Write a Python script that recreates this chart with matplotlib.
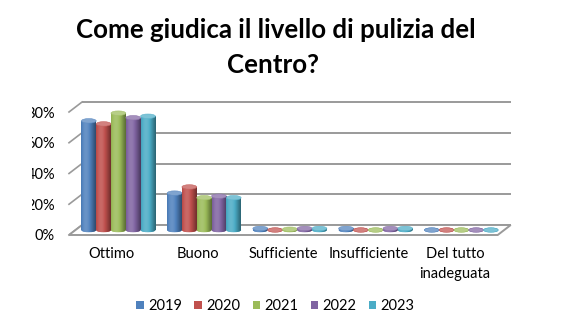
import numpy as np
import matplotlib
matplotlib.use('Agg')
import matplotlib.pyplot as plt
from matplotlib.patches import Ellipse, Polygon, Rectangle
from matplotlib.colors import to_rgb

# ---------------- data ----------------
categories = ['Ottimo', 'Buono', 'Sufficiente', 'Insufficiente', 'Del tutto\ninadeguata']
years = ['2019', '2020', '2021', '2022', '2023']
v2019 = [71, 24, 1, 1, 0]
v2020 = [69, 28, 0, 0, 0]
v2021 = [76, 21, 0.5, 0, 0]
v2022 = [73, 22, 1, 1, 0]
v2023 = [74, 21, 1, 1, 0]
yticks = [0, 20, 40, 60, 80]
ytick_labels = ['0%', '20%', '40%', '60%', '80%']
title_line1 = 'Come giudica il livello di pulizia del'
title_line2 = 'Centro?'

series = [v2019, v2020, v2021, v2022, v2023]
colors = ['#4F81BD', '#C0504D', '#9BBB59', '#8064A2', '#4BACC6']

plt.rcParams['font.family'] = ['Lato', 'DejaVu Sans']

W, H = 565, 330
fig = plt.figure(figsize=(W / 100, H / 100), dpi=100)
ax = fig.add_axes([69 / W, 95 / H, 428.7 / W, 123 / H])

DX, DY = 0.152, 6.5        # depth offset (data units)
x0, x1 = -0.5, 4.5
gc = '#9a9a9a'

# back wall grid lines + left wall diagonals
for v in yticks:
    ax.plot([x0 + DX, x1 + DX], [v + DY, v + DY], color=gc, lw=1.4,
            clip_on=False, zorder=1, solid_capstyle='butt')
    ax.plot([x0, x0 + DX], [v, v + DY], color=gc, lw=1.2, clip_on=False, zorder=1)

# floor
ax.add_patch(Polygon([(x0, 0), (x1, 0), (x1 + DX, DY), (x0 + DX, DY)],
                     closed=True, facecolor='white', edgecolor=gc, lw=1.4,
                     clip_on=False, zorder=1.5))


def shade_rgb(c, n=64):
    c = np.array(to_rgb(c))
    t = np.linspace(0, 1, n)
    s = 0.80 + 0.32 * np.cos(np.pi * (t - 0.33) * 1.1)
    out = np.empty((1, n, 3))
    for k, sv in enumerate(s):
        if sv >= 1:
            out[0, k] = c + (1 - c) * (sv - 1) * 1.2
        else:
            out[0, k] = c * sv
    return np.clip(out, 0, 1)


def lighten(c, f):
    c = np.array(to_rgb(c))
    return tuple(c + (1 - c) * f)


w = 0.1726
base = DY / 2
eh = 2.9
xpos = np.arange(len(categories))

for i, (vals, c) in enumerate(zip(series, colors)):
    xs = xpos + DX / 2 + (i - 2) * w
    grad = shade_rgb(c)
    bars = ax.bar(xs, vals, width=w, bottom=base, color=c, zorder=3,
                  linewidth=0, clip_on=False)
    for x, v, b in zip(xs, vals, bars):
        # bottom ellipse
        be = Ellipse((x, base), w, eh, facecolor=c, edgecolor='none',
                     zorder=3, transform=ax.transData)
        ax.add_patch(be)
        im = ax.imshow(grad, extent=(x - w / 2, x + w / 2, base - eh / 2, base + eh / 2),
                       aspect='auto', interpolation='bilinear', zorder=3)
        im.set_clip_path(be)
        if v > 0:
            im2 = ax.imshow(grad, extent=(x - w / 2, x + w / 2, base, base + v),
                            aspect='auto', interpolation='bilinear', zorder=3)
            im2.set_clip_path(b)
        # top ellipse
        ax.add_patch(Ellipse((x, base + v), w, eh, facecolor=lighten(c, 0.28),
                             edgecolor=lighten(c, 0.1), lw=0.4, zorder=3,
                             clip_on=False))

ax.set_xlim(x0, x1)
ax.set_ylim(0, 80)
for s in ax.spines.values():
    s.set_visible(False)
ax.set_yticks(yticks, ytick_labels)
ax.set_xticks(xpos, [])
ax.tick_params(axis='y', length=0, pad=10, labelsize=10.5)
ax.tick_params(axis='x', length=0)
ax.set_facecolor('none')

# category labels
for x, cat in zip(xpos, categories):
    ax.annotate(cat, (x, 0), xytext=(0, -8.5), textcoords='offset points',
                ha='center', va='top', fontsize=10.5, linespacing=1.55,
                annotation_clip=False)

# title
fig.text(276 / W, 1 - 30 / H, title_line1, ha='center', va='center',
         fontsize=18.6, fontweight='bold')
fig.text(273 / W, 1 - 65 / H, title_line2, ha='center', va='center',
         fontsize=18.6, fontweight='bold')

# legend
handles = [Rectangle((0, 0), 1, 1, facecolor=c, edgecolor='none') for c in colors]
fig.legend(handles, years, loc='center', bbox_to_anchor=(275.5 / W, 1 - 306 / H),
           ncol=5, frameon=False, handlelength=0.5, handleheight=0.5,
           handletextpad=0.3, columnspacing=0.86, fontsize=10.5)

# the chart area is cropped on the left in the reference
fig.add_artist(Rectangle((0, 0), 32 / W, 1, transform=fig.transFigure,
                         facecolor='white', edgecolor='none', zorder=10))

fig.savefig('out.png', dpi=100, facecolor='white')
